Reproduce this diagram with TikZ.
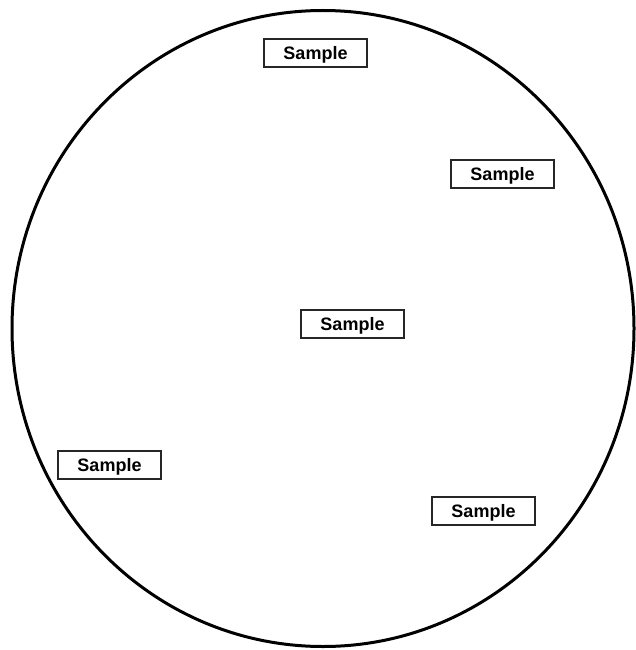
\documentclass[tikz,border=0pt]{standalone}
\usepackage{fontspec}
\setmainfont{Liberation Sans}
\begin{document}
\begin{tikzpicture}[x=1pt,y=-1pt,
  samplebox/.style={draw=black!85, line width=1.2pt, minimum width=103pt, minimum height=28pt, inner sep=0pt, text height=14pt, text depth=1.8pt, font=\fontsize{18}{20}\selectfont\bfseries}]
\useasboundingbox (0,0) rectangle (636,650);
\draw[line width=3pt] (323,328.5) ellipse [x radius=311, y radius=318];
\node[samplebox] (s1) at (315.5,53) {Sample};
\node[samplebox] (s2) at (502.5,174) {Sample};
\node[samplebox] (s3) at (352.5,324) {Sample};
\node[samplebox] (s4) at (109.5,465) {Sample};
\node[samplebox] (s5) at (483.5,511) {Sample};
\end{tikzpicture}
\end{document}
